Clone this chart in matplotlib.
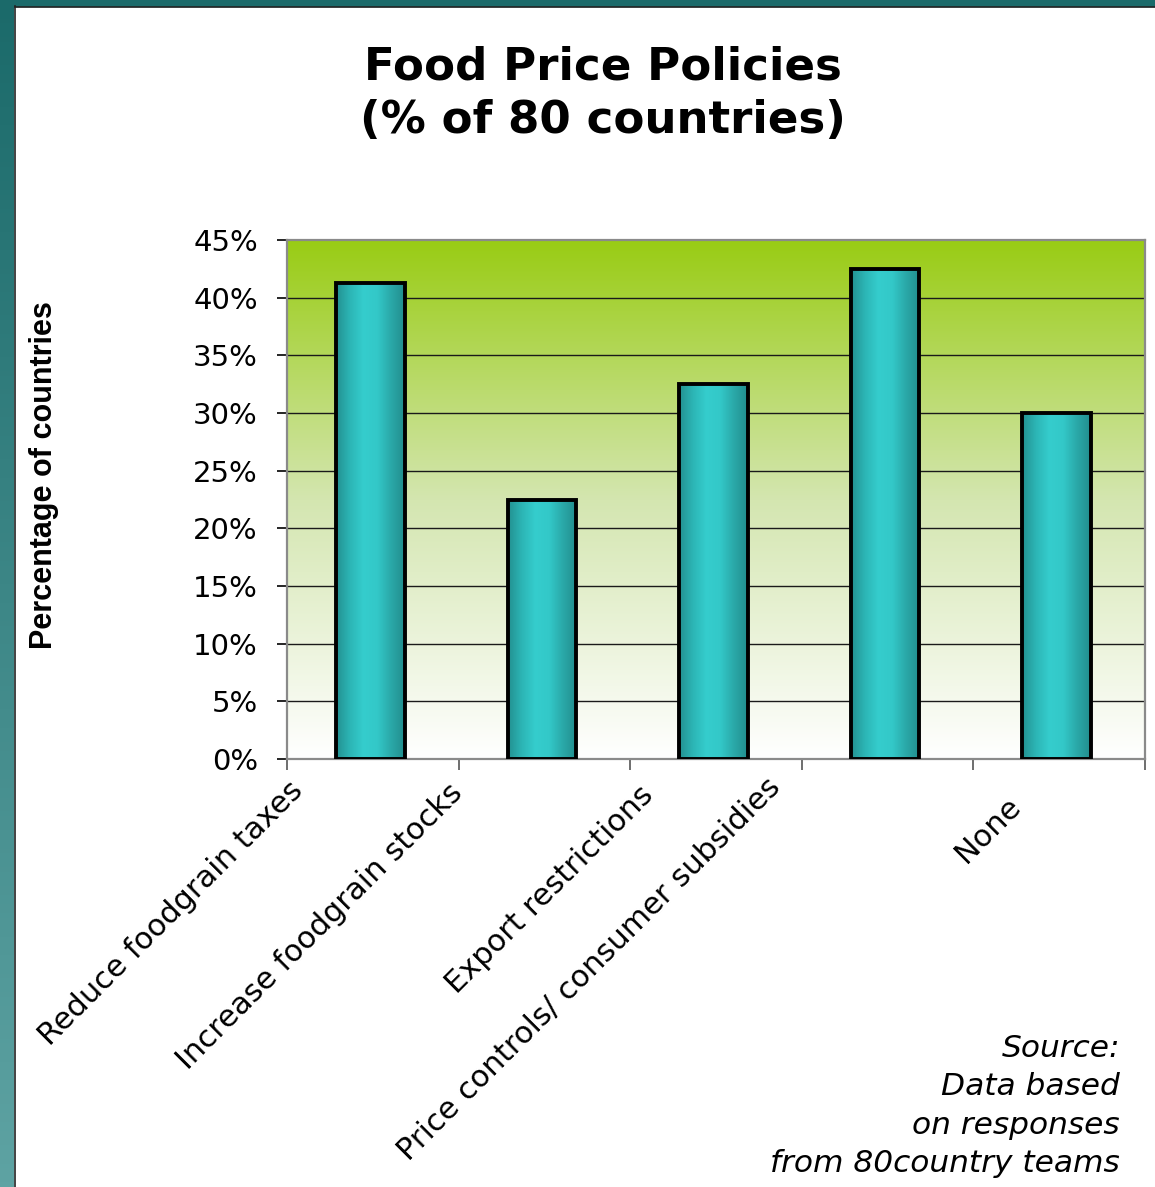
import numpy as np
import matplotlib
matplotlib.use('Agg')
import matplotlib.pyplot as plt
from matplotlib.patches import Rectangle
from matplotlib.colors import LinearSegmentedColormap

# data
policies = ['Reduce foodgrain taxes', 'Increase foodgrain stocks',
            'Export restrictions', 'Price controls/ consumer subsidies', 'None']
share = [0.4125, 0.225, 0.325, 0.425, 0.30]
yticks = [0, 0.05, 0.10, 0.15, 0.20, 0.25, 0.30, 0.35, 0.40, 0.45]

# where excel put the rotated category labels (x in data, y in axes fraction)
label_x = [-0.49, 0.44, 1.55, 2.29, 3.69]
label_y = [-0.033, -0.037, -0.041, -0.026, -0.062]

# excel text here renders wide, DejaVu is closer in width than Arial
plt.rcParams['font.family'] = ['DejaVu Sans']

fig = plt.figure(figsize=(11.55, 11.87), dpi=100)

# slide frame: teal strip on the left and on top
bg = fig.add_axes([0, 0, 1, 1], zorder=-5)
bg.set_xlim(0, 1155)
bg.set_ylim(1187, 0)
bg.axis('off')
strip = np.linspace(0, 1, 256).reshape(-1, 1)
teal = LinearSegmentedColormap.from_list('teal', ['#1b6a6a', '#5ea3a3'])
bg.imshow(strip, cmap=teal, extent=[0, 14, 1187, 0], aspect='auto')
bg.add_patch(Rectangle((0, 0), 1155, 6, color='#1b6a6a'))
bg.plot([14.5, 14.5], [6, 1187], color='#222222', lw=1.2)
bg.plot([14.5, 1155], [6.5, 6.5], color='#222222', lw=1.2)

ax = fig.add_axes([287 / 1155, 1 - 759 / 1187, 858 / 1155, 519 / 1187])

# green-to-white plot area
green = LinearSegmentedColormap.from_list('green', ['#ffffff', '#d4e6b0', '#99cc14'])
grad = np.linspace(0, 1, 256).reshape(-1, 1)
ax.imshow(grad, cmap=green, extent=[0, 1, 0, 1], transform=ax.transAxes,
          aspect='auto', origin='lower', zorder=0)

x = np.arange(len(policies))
ax.set_xlim(-0.5, len(policies) - 0.5)
ax.set_ylim(0, 0.45)

for t in yticks[1:-1]:
    ax.axhline(t, color='#1a1a1a', lw=1.0, zorder=1)

bar_cmap = LinearSegmentedColormap.from_list(
    'bar', ['#239090', '#2cb5b5', '#35cdcd', '#33c8c8', '#2aa8a8', '#228d8d'])
bars = ax.bar(x - 0.015, share, width=0.4, facecolor='none', edgecolor='black',
              linewidth=2.8, zorder=3)
hgrad = np.linspace(0, 1, 256).reshape(1, -1)
for b in bars:
    x0, w, h = b.get_x(), b.get_width(), b.get_height()
    im = ax.imshow(hgrad, cmap=bar_cmap, extent=[x0, x0 + w, 0, h],
                   aspect='auto', zorder=2)
    im.set_clip_path(b)

for s in ax.spines.values():
    s.set_color('#8a8a8a')
    s.set_linewidth(1.6)

ax.set_yticks(yticks)
ax.set_yticklabels([f'{int(round(t * 100))}%' for t in yticks], fontsize=21)
ax.tick_params(axis='y', length=7, width=1.2, color='black', pad=14)

ax.set_xticks(np.arange(-0.5, len(policies)), minor=False)
ax.set_xticklabels([])
ax.tick_params(axis='x', length=8, width=1.2, color='#555555')

for name, lx, ly in zip(policies, label_x, label_y):
    ax.text(lx, ly, name, transform=ax.get_xaxis_transform(), rotation=45,
            rotation_mode='anchor', ha='right', va='top', fontsize=22)

fig.text(44 / 1155, 1 - 475 / 1187, 'Percentage of countries', rotation=90,
         ha='center', va='center', fontsize=22, fontweight='bold',
         family='Liberation Sans')

fig.text(603 / 1155, 1 - 94 / 1187, 'Food Price Policies\n(% of 80 countries)',
         ha='center', va='center', fontsize=32.5, fontweight='bold', linespacing=1.3)

fig.text(1120 / 1155, 1 - 1106 / 1187,
         'Source:\nData based\non responses\nfrom 80country teams',
         ha='right', va='center', fontsize=22.5, style='italic', linespacing=1.42)

fig.savefig('out.png', dpi=100)
